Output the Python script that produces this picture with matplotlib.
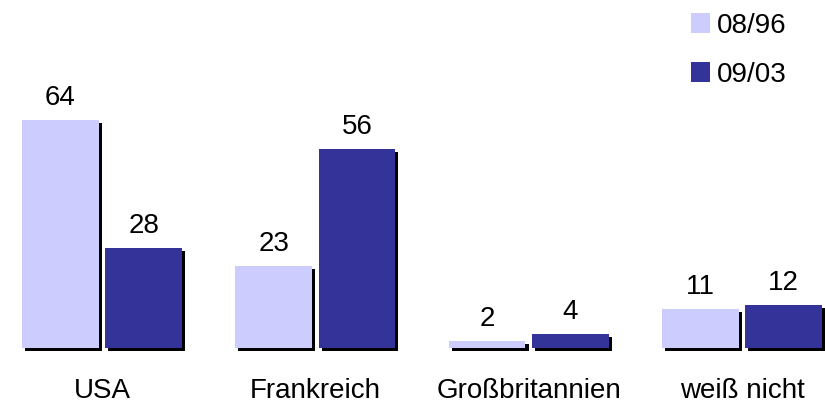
import numpy as np
import matplotlib.pyplot as plt
import matplotlib.patheffects as pe
from matplotlib.patches import Patch

plt.rcParams['font.family'] = ['Liberation Sans', 'DejaVu Sans']

# Daten
categories = ['USA', 'Frankreich', 'Großbritannien', 'weiß nicht']
series_names = ['08/96', '09/03']
values_0896 = [64, 23, 2, 11]
values_0903 = [28, 56, 4, 12]

colors = ['#CCCCFF', '#333399']

fig = plt.figure(figsize=(8.25, 4.04), dpi=100)
ax = fig.add_axes([0, 0, 1, 1])

x = np.arange(len(categories))
width = 0.36
off = 0.195
shadow = [pe.SimplePatchShadow(offset=(2.2, -2.2), shadow_rgbFace='black', alpha=1), pe.Normal()]

for vals, name, col, d in [(values_0896, series_names[0], colors[0], -off),
                           (values_0903, series_names[1], colors[1], off)]:
    bars = ax.bar(x + d, vals, width, color=col, label=name)
    for b, v in zip(bars, vals):
        b.set_path_effects(shadow)
        ax.annotate(str(v), (b.get_x() + b.get_width() / 2, v), xytext=(0, 6.5),
                    textcoords='offset points', ha='center', va='bottom', fontsize=20)

for xi, c in zip(x, categories):
    ax.text(xi, -12, c, ha='center', va='center', fontsize=20)

ax.set_xlim(-0.478, 3.389)
ax.set_ylim(-15.7, 97.75)
ax.axis('off')

handles = [Patch(facecolor=c, edgecolor='none') for c in colors]
ax.legend(handles, series_names, loc='upper left', bbox_to_anchor=(0.807, 1.03),
          frameon=False, fontsize=20, handlelength=0.68, handleheight=0.72,
          handletextpad=0.25, labelspacing=0.83)

fig.savefig('out.png', dpi=100)
